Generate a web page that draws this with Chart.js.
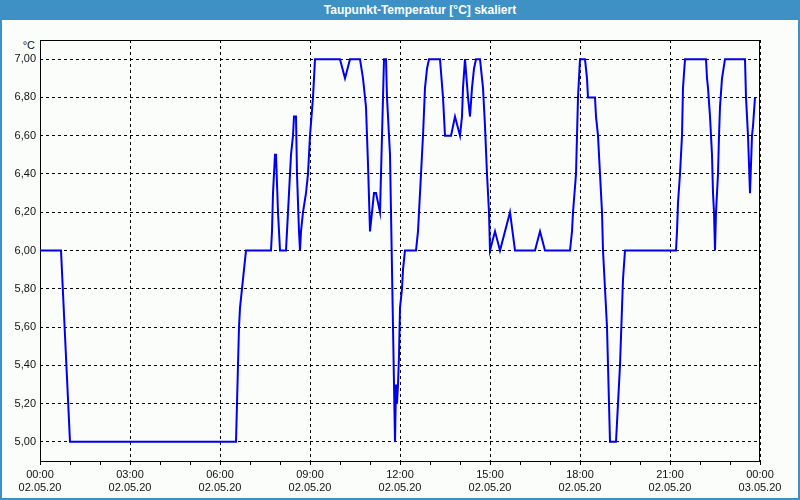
<!DOCTYPE html>
<html>
<head>
<meta charset="utf-8">
<script src="https://cdn.jsdelivr.net/npm/chart.js@4.4.0/dist/chart.umd.min.js"></script>
<style>
html,body{margin:0;padding:0;background:#fff;}
#win{position:relative;width:800px;height:500px;background:#3d91c4;overflow:hidden;}
#inner{position:absolute;left:2px;top:20px;width:796px;height:478px;background:#fbfdfb;}
#bar{position:absolute;left:0;top:0;width:800px;height:20px;color:#fff;font:bold 12px "Liberation Sans",Arial,sans-serif;line-height:20px;text-align:center;box-sizing:border-box;padding-left:40px;}
#unit{position:absolute;left:0;top:38px;width:35px;text-align:right;font:11px "Liberation Sans",Arial,sans-serif;color:#111;line-height:14px;}
canvas{position:absolute;left:0;top:0;}
</style>
</head>
<body>
<div id="win">
  <div id="inner"></div>
  <div id="bar">Taupunkt-Temperatur [°C] skaliert</div>
  <div id="unit">°C</div>
  <canvas id="c" width="800" height="500"></canvas>
</div>
<script>
// time of each reading, minutes after 02.05.20 00:00
const timeMin = [
  0, 42, 60, 392, 398, 400, 412,
  462, 464, 466, 470, 472, 476, 480, 492, 494, 498, 502, 506, 508, 512, 514, 518, 520,
  522, 526, 532, 536, 540, 546, 550,
  600, 610, 620, 640, 646, 652, 656, 660, 664, 668, 672, 680,
  682, 684, 686, 688, 692, 694, 698, 700, 704, 706, 708, 710,
  712, 714, 716, 718, 720, 724, 726, 730,
  752, 756, 760, 762, 766, 770, 774, 778,
  800, 806, 810, 822, 830, 840, 844, 846, 850, 856, 860, 864, 868, 872,
  880, 884, 886, 890, 894, 898, 900, 910, 920, 940, 950, 990, 1000, 1010,
  1060, 1064, 1066, 1072, 1074, 1076, 1080, 1090, 1094, 1096,
  1110, 1112, 1116, 1120, 1124, 1126, 1130, 1134, 1136, 1138, 1140,
  1152, 1154, 1156, 1160, 1164, 1166, 1170,
  1272, 1274, 1276, 1280, 1284, 1286, 1290,
  1332, 1334, 1336, 1340, 1344, 1346, 1348, 1350, 1352, 1356, 1358, 1360, 1364, 1370,
  1410, 1412, 1416, 1418, 1420, 1424, 1426, 1430
];
// dew point temperature in °C
const dewPoint = [
  6.0, 6.0, 5.0, 5.0, 5.6, 5.7, 6.0,
  6.0, 6.1, 6.3, 6.5, 6.5, 6.2, 6.0, 6.0, 6.1, 6.3, 6.5, 6.6, 6.7, 6.7, 6.4, 6.1, 6.0,
  6.1, 6.2, 6.3, 6.4, 6.6, 6.8, 7.0,
  7.0, 6.9, 7.0, 7.0, 6.9, 6.75, 6.45, 6.1, 6.2, 6.3, 6.3, 6.2,
  6.4, 6.6, 6.8, 7.0, 7.0, 6.8, 6.6, 6.5, 5.9, 5.6, 5.3, 5.0,
  5.3, 5.2, 5.3, 5.45, 5.7, 5.8, 5.9, 6.0,
  6.0, 6.1, 6.3, 6.4, 6.6, 6.85, 6.95, 7.0,
  7.0, 6.8, 6.6, 6.6, 6.7, 6.6, 6.7, 6.85, 7.0, 6.8, 6.7, 6.85, 6.95, 7.0,
  7.0, 6.9, 6.85, 6.65, 6.4, 6.2, 6.0, 6.1, 6.0, 6.2, 6.0, 6.0, 6.1, 6.0,
  6.0, 6.1, 6.2, 6.4, 6.6, 6.8, 7.0, 7.0, 6.9, 6.8,
  6.8, 6.7, 6.6, 6.4, 6.2, 6.0, 5.8, 5.6, 5.4, 5.2, 5.0,
  5.0, 5.1, 5.2, 5.4, 5.7, 5.85, 6.0,
  6.0, 6.1, 6.25, 6.4, 6.6, 6.85, 7.0,
  7.0, 6.9, 6.85, 6.7, 6.5, 6.3, 6.2, 6.0, 6.2, 6.4, 6.6, 6.75, 6.9, 7.0,
  7.0, 6.8, 6.6, 6.45, 6.3, 6.6, 6.65, 6.8
];
// axis ticks
const yTicks = [5.0, 5.2, 5.4, 5.6, 5.8, 6.0, 6.2, 6.4, 6.6, 6.8, 7.0];
const xTickMin = [0, 60, 120, 180, 240, 300, 360, 420, 480, 540, 600, 660, 720, 780, 840, 900, 960, 1020, 1080, 1140, 1200, 1260, 1320, 1380, 1440];
const xLabelMin = [0, 180, 360, 540, 720, 900, 1080, 1260, 1440];
const xLabelTime = ['00:00', '03:00', '06:00', '09:00', '12:00', '15:00', '18:00', '21:00', '00:00'];
const xLabelDate = ['02.05.20', '02.05.20', '02.05.20', '02.05.20', '02.05.20', '02.05.20', '02.05.20', '02.05.20', '03.05.20'];

const points = timeMin.map((t, i) => ({x: t, y: dewPoint[i]}));
const FONT = {family: '"Liberation Sans", Arial, sans-serif', size: 11};

const framePlugin = {
  id: 'frame',
  beforeDatasetsDraw(chart) {
    const a = chart.chartArea, ctx = chart.ctx;
    ctx.save();
    ctx.strokeStyle = '#000';
    ctx.lineWidth = 1;
    ctx.strokeRect(Math.round(a.left) + 0.5, Math.round(a.top) + 0.5,
                   Math.round(a.right - a.left) - 1, Math.round(a.bottom - a.top));
    ctx.restore();
  }
};

new Chart(document.getElementById('c'), {
  type: 'line',
  data: {
    datasets: [{
      data: points,
      borderColor: '#0000ee',
      borderWidth: 2,
      pointRadius: 0,
      tension: 0,
      fill: false
    }]
  },
  options: {
    responsive: false,
    animation: false,
    devicePixelRatio: 1,
    layout: {padding: {left: 0, top: 40, right: 40, bottom: 0}},
    plugins: {legend: {display: false}, tooltip: {enabled: false}, title: {display: false}},
    scales: {
      x: {
        type: 'linear',
        min: 0, max: 1440,
        afterBuildTicks: s => { s.ticks = xTickMin.map(v => ({value: v})); },
        afterFit: s => { s.height = 39; },
        border: {display: false, dash: [3, 3]},
        grid: {
          color: c => (c.tick && xLabelMin.includes(c.tick.value)) ? '#000' : 'rgba(0,0,0,0)',
          lineWidth: 1,
          drawTicks: true,
          tickLength: 4,
          tickColor: '#000',
          tickBorderDash: []
        },
        ticks: {
          autoSkip: false,
          maxRotation: 0,
          padding: 3,
          color: '#111',
          font: FONT,
          callback: v => {
            const i = xLabelMin.indexOf(v);
            return i >= 0 ? [xLabelTime[i], xLabelDate[i]] : '';
          }
        }
      },
      y: {
        min: 4.9, max: 7.1,
        afterBuildTicks: s => { s.ticks = yTicks.map(v => ({value: v})); },
        afterFit: s => { s.width = 40; },
        border: {display: false, dash: [3, 3]},
        grid: {color: '#000', lineWidth: 1, drawTicks: false},
        ticks: {
          padding: 4,
          color: '#111',
          font: FONT,
          callback: v => Number(v).toFixed(2).replace('.', ',')
        }
      }
    }
  },
  plugins: [framePlugin]
});
</script>
</body>
</html>
